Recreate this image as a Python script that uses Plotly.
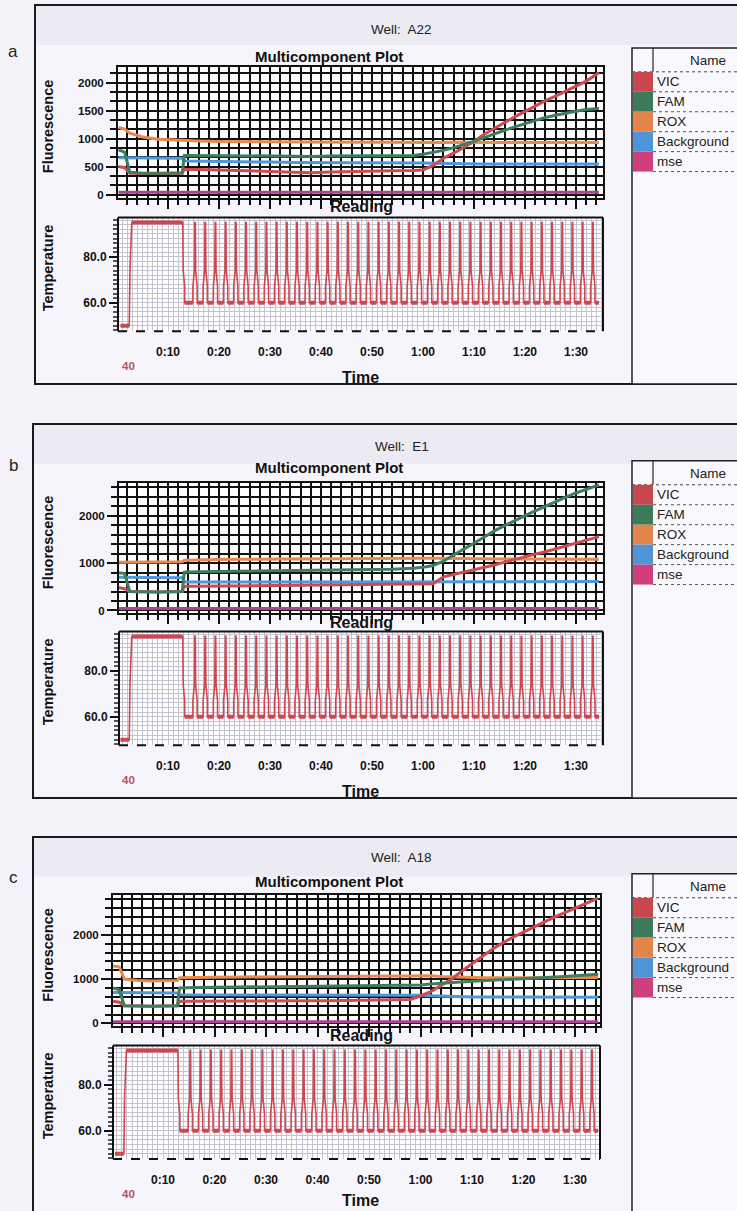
import plotly.graph_objects as go

W, H = 737, 1211
def X(px): return px / W
def Y(py): return 1 - py / H

# ---------------- data ----------------
SERIES = ["VIC", "FAM", "ROX", "Background", "mse"]
SWATCH = {"VIC": "#c9474c", "FAM": "#3c7a5c", "ROX": "#e3854a", "Background": "#4e95d8", "mse": "#cf3f7c"}
LINE = {"VIC": "#cc4a50", "FAM": "#3d7d5e", "ROX": "#e88a4c", "Background": "#4f97db", "mse": "#ad4390"}

TIME = [0.3, 1.5, 2.5, 5, 8, 12.8, 13.2, 16, 20, 25, 30, 35, 38, 42, 46, 50, 54, 58,
        60, 62, 64, 66, 68, 70, 72, 74, 76, 78, 80, 82, 84, 86, 88, 90, 92, 94.5]

# Well A22
VIC_A = [500, 480, 380, 375, 375, 380, 450, 450, 440, 430, 420, 400, 390, 405, 415, 420, 425, 430,
         440, 520, 650, 740, 840, 950, 1080, 1190, 1290, 1390, 1490, 1590, 1680, 1760, 1850, 1940, 2030, 2180]
FAM_A = [800, 760, 400, 380, 380, 390, 700, 700, 690, 690, 690, 685, 680, 690, 690, 690, 690, 700,
         720, 750, 790, 840, 890, 950, 1020, 1090, 1150, 1210, 1270, 1330, 1380, 1420, 1460, 1490, 1520, 1540]
ROX_A = [1200, 1170, 1100, 1030, 990, 970, 960, 960, 950, 945, 940, 940, 935, 935, 935, 935, 930, 930,
         930, 930, 930, 935, 930, 935, 930, 930, 930, 930, 930, 930, 930, 930, 930, 930, 930, 930]
BKG_A = [660, 660, 650, 650, 650, 650, 600, 595, 590, 585, 580, 575, 575, 575, 570, 570, 570, 570,
         565, 560, 555, 550, 550, 550, 548, 548, 547, 546, 545, 545, 545, 545, 545, 545, 545, 545]
MSE_A = [40] * 36

# Well E1
VIC_B = [480, 460, 400, 390, 390, 400, 510, 510, 515, 520, 530, 535, 540, 545, 545, 550, 555, 555,
         560, 565, 710, 760, 800, 850, 905, 960, 1020, 1080, 1130, 1190, 1240, 1300, 1360, 1420, 1480, 1560]
FAM_B = [800, 780, 400, 390, 390, 400, 810, 820, 825, 830, 835, 840, 845, 850, 855, 860, 870, 890,
         910, 950, 1040, 1170, 1290, 1420, 1550, 1680, 1790, 1900, 2000, 2100, 2200, 2300, 2390, 2480, 2560, 2650]
ROX_B = [1020, 1020, 1020, 1025, 1025, 1030, 1060, 1070, 1075, 1080, 1085, 1090, 1090, 1095, 1095, 1100, 1100, 1100,
         1100, 1100, 1095, 1095, 1090, 1090, 1090, 1088, 1086, 1085, 1084, 1083, 1082, 1081, 1080, 1080, 1080, 1080]
BKG_B = [700, 700, 695, 690, 690, 690, 600, 600, 600, 600, 600, 602, 603, 603, 604, 605, 605, 605,
         605, 610, 615, 615, 615, 612, 612, 612, 610, 610, 610, 610, 610, 610, 610, 610, 610, 610]
MSE_B = [40] * 36

# Well A18
VIC_C = [500, 480, 400, 390, 390, 400, 500, 500, 505, 510, 510, 515, 515, 515, 520, 520, 520, 540,
         620, 720, 860, 1000, 1180, 1350, 1520, 1680, 1820, 1950, 2060, 2180, 2290, 2400, 2500, 2600, 2700, 2830]
FAM_C = [800, 760, 400, 390, 390, 400, 800, 810, 815, 820, 825, 830, 835, 840, 845, 850, 855, 860,
         870, 890, 910, 930, 945, 955, 965, 975, 985, 995, 1010, 1020, 1035, 1050, 1060, 1075, 1090, 1110]
ROX_C = [1300, 1280, 1000, 970, 960, 970, 1030, 1040, 1045, 1050, 1055, 1060, 1060, 1065, 1070, 1070, 1075, 1080,
         1080, 1075, 1060, 1050, 1040, 1035, 1030, 1030, 1030, 1030, 1035, 1035, 1035, 1040, 1040, 1040, 1040, 1040]
BKG_C = [700, 700, 695, 690, 690, 690, 650, 650, 650, 648, 646, 645, 644, 643, 642, 641, 640, 640,
         635, 625, 615, 605, 600, 598, 596, 595, 594, 593, 592, 591, 590, 590, 590, 590, 590, 590]
MSE_C = [40] * 36

# thermal protocol (min, deg C)
HOLD_T = [0.7, 2.4, 2.55, 2.9, 12.85]
HOLD_C = [50, 50, 75, 95, 95]
SPIKE_DT = [-0.42, -0.42, -0.13, -0.05, 0.05, 0.13, 0.42, 0.42]
SPIKE_C = [60, 67, 74, 95, 95, 74, 67, 60]
PEAKS = [15.3, 17.3, 19.3, 21.3, 23.3, 25.3, 27.3, 29.3, 31.3, 33.3, 35.3, 37.3, 39.3, 41.3,
         43.3, 45.3, 47.3, 49.3, 51.3, 53.3, 55.3, 57.3, 59.3, 61.3, 63.3, 65.3, 67.3, 69.3,
         71.3, 73.3, 75.3, 77.3, 79.3, 81.3, 83.3, 85.3, 87.3, 89.3, 91.3, 93.3]
END_T, END_C = 94.5, 60

TIME_TICKS = [10, 20, 30, 40, 50, 60, 70, 80, 90]
TIME_LABELS = ["0:10", "0:20", "0:30", "0:40", "0:50", "1:00", "1:10", "1:20", "1:30"]
TEMP_TICKS = [60, 80]
TEMP_LABELS = ["60.0", "80.0"]

WELLS = [
    dict(label="a", well="A22", data=dict(VIC=VIC_A, FAM=FAM_A, ROX=ROX_A, Background=BKG_A, mse=MSE_A), ytick=500),
    dict(label="b", well="E1", data=dict(VIC=VIC_B, FAM=FAM_B, ROX=ROX_B, Background=BKG_B, mse=MSE_B), ytick=1000),
    dict(label="c", well="A18", data=dict(VIC=VIC_C, FAM=FAM_C, ROX=ROX_C, Background=BKG_C, mse=MSE_C), ytick=1000),
]

# ---------------- layout geometry (pixels) ----------------
GEOM = [
    dict(box=(35, 5, 385), well_y=30, title_y=57, lab_y=52, leg_top=48,
         fl=(118, 603, 67, 198), zero=195, ppu=0.056, t0=117, ppm=5.1, tt=218, time_dy=46),
    dict(box=(33, 425, 800), well_y=448, title_y=469, lab_y=467, leg_top=462,
         fl=(119, 603, 484, 615), zero=612, ppu=0.0475, t0=117, ppm=5.1, tt=633, time_dy=46),
    dict(box=(33, 839, 1216), well_y=860, title_y=884, lab_y=880, leg_top=876,
         fl=(113, 600, 897, 1029), zero=1026, ppu=0.0444, t0=111.5, ppm=5.15, tt=1048, time_dy=41),
]

FONT = "Liberation Sans, Arial, sans-serif"

# temperature profile
tp_t = list(HOLD_T)
tp_c = list(HOLD_C)
for dt, cc in zip(SPIKE_DT[4:], SPIKE_C[4:]):
    tp_t.append(HOLD_T[-1] + dt)
    tp_c.append(cc)
for p in PEAKS:
    for dt, cc in zip(SPIKE_DT, SPIKE_C):
        tp_t.append(p + dt)
        tp_c.append(cc)
tp_t.append(END_T)
tp_c.append(END_C)
hold_t, hold_c = [], []
for i in range(len(tp_t) - 1):
    if tp_c[i] == tp_c[i + 1] and tp_t[i + 1] - tp_t[i] > 0.2:
        hold_t += [tp_t[i], tp_t[i + 1], None]
        hold_c += [tp_c[i], tp_c[i + 1], None]

fig = go.Figure()
shapes = []
ann = []

def A(text, x, y, size, color="#111", bold=False, xanchor="center", angle=0, family=FONT):
    ann.append(dict(text=text, x=X(x), y=Y(y), xref="paper", yref="paper", showarrow=False,
                    xanchor=xanchor, yanchor="middle", textangle=angle,
                    font=dict(family=family, size=size, color=color, weight=700 if bold else 400)))

for k, (w, g) in enumerate(zip(WELLS, GEOM)):
    bl, bt, bb = g["box"]
    shapes.append(dict(type="rect", xref="paper", yref="paper", x0=X(bl), x1=1.02, y0=Y(bb), y1=Y(bt),
                       line=dict(color="#1a1a1a", width=2), fillcolor="#f6f5fb", layer="below"))
    shapes.append(dict(type="rect", xref="paper", yref="paper", x0=X(bl + 1), x1=1.02, y0=Y(bt + 40), y1=Y(bt + 1),
                       line=dict(width=0), fillcolor="#ecebf3", layer="below"))
    fl_l, fl_r, fl_t, fl_b = g["fl"]
    tt = g["tt"]
    tb = tt + 114
    for (yt, yb) in [(fl_t, fl_b), (tt, tb)]:
        shapes.append(dict(type="rect", xref="paper", yref="paper", x0=X(fl_l), x1=X(fl_r), y0=Y(yb), y1=Y(yt),
                           line=dict(width=0), fillcolor="#fdfdfe", layer="below"))

    ia = 2 * k + 1
    ib = 2 * k + 2
    xa, ya = f"x{ia}", f"y{ia}"
    xb, yb_ = f"x{ib}", f"y{ib}"
    xrange = [(fl_l - g["t0"]) / g["ppm"], (fl_r - g["t0"]) / g["ppm"]]
    yrange = [-(fl_b - g["zero"]) / g["ppu"], (g["zero"] - fl_t) / g["ppu"]]
    trange = [80 - (tb - (tt + 39.5)) / 2.3, 80 + 39.5 / 2.3]

    for s in ["mse", "Background", "ROX", "VIC", "FAM"]:
        fig.add_trace(go.Scatter(x=TIME, y=w["data"][s], mode="lines", name=s, showlegend=False,
                                 line=dict(color=LINE[s], width=3), xaxis=xa, yaxis=ya))
    fig.add_trace(go.Scatter(x=tp_t, y=tp_c, mode="lines", showlegend=False,
                             line=dict(color="#d0464e", width=1.6), xaxis=xb, yaxis=yb_))
    fig.add_trace(go.Scatter(x=hold_t, y=hold_c, mode="lines", showlegend=False,
                             line=dict(color="#d0464e", width=4), xaxis=xb, yaxis=yb_))

    dom_x = [X(fl_l), X(fl_r)]
    sfx = "" if ia == 1 else str(ia)
    sfx2 = str(ib)
    fig.update_layout(**{
        f"xaxis{sfx}": dict(domain=dom_x, range=xrange, anchor=ya, showticklabels=False,
                            tick0=0, dtick=10, ticks="outside", ticklen=9, tickwidth=1.5, tickcolor="#111",
                            showgrid=True, gridcolor="#111", gridwidth=1.6, zeroline=False,
                            showline=True, linecolor="#111", linewidth=2, mirror=True,
                            minor=dict(dtick=2, tick0=0, showgrid=True, gridcolor="#111", gridwidth=1.6,
                                       ticks="outside", ticklen=5, tickcolor="#111")),
        f"yaxis{sfx}": dict(domain=[Y(fl_b), Y(fl_t)], range=yrange, anchor=xa,
                            tick0=0, dtick=w["ytick"], ticks="outside", ticklen=10, tickwidth=1.5, tickcolor="#111",
                            tickfont=dict(family=FONT, size=11.5, color="#111", weight=700),
                            showgrid=True, gridcolor="#111", gridwidth=1.6, zeroline=False,
                            showline=True, linecolor="#111", linewidth=2, mirror=True,
                            minor=dict(dtick=w["ytick"] / (3 if w["ytick"] == 500 else 5), showgrid=True,
                                       gridcolor="#111", gridwidth=1.6, ticks="outside", ticklen=6, tickcolor="#111")),
        f"xaxis{sfx2}": dict(domain=dom_x, range=xrange, anchor=yb_,
                             tickvals=TIME_TICKS, ticktext=TIME_LABELS, ticks="", ticklabelstandoff=12,
                             tickfont=dict(family=FONT, size=12, color="#111", weight=700),
                             showgrid=False, zeroline=False, showline=False,
                             minor=dict(dtick=1, tick0=0, showgrid=True, gridcolor="#c3c3d2", gridwidth=0.7)),
        f"yaxis{sfx2}": dict(domain=[Y(tb), Y(tt)], range=trange, anchor=xb,
                             tickvals=TEMP_TICKS, ticktext=TEMP_LABELS, ticks="outside", ticklen=8, tickwidth=1.5,
                             tickcolor="#111", tickfont=dict(family=FONT, size=12, color="#111", weight=700),
                             showgrid=False, zeroline=False, showline=False,
                             minor=dict(dtick=2, tick0=0, showgrid=True, gridcolor="#c3c3d2", gridwidth=0.7,
                                        ticks="outside", ticklen=4, tickcolor="#555")),
    })
    for (x0, y0, x1, y1, dash) in [(0, 1, 1, 1, "solid"), (0, 0, 0, 1, "solid"), (1, 0, 1, 1, "solid"),
                                   (0, 0, 1, 0, "dash")]:
        shapes.append(dict(type="line", xref=f"{xb} domain", yref=f"{yb_} domain", x0=x0, y0=y0, x1=x1, y1=y1,
                           line=dict(color="#111", width=2, dash=dash)))

    A(f"Well:  {w['well']}", 402, g["well_y"], 13.5, color="#222")
    A(w["label"], 13, g["lab_y"], 17, color="#222")
    A("Multicomponent Plot", 329, g["title_y"], 15, bold=True)
    A("Fluorescence", 48, (fl_t + fl_b) / 2 - 6, 14.5, bold=True, angle=-90)
    A("Temperature", 48, (tt + tb) / 2 - 7, 14.5, bold=True, angle=-90)
    A("Reading", 361, fl_b + 9, 16, bold=True)
    A("Time", 360, tb + g["time_dy"], 16, bold=True)
    A("40", 120, tb + 35, 11.5, color="#b55563", bold=True, xanchor="left")

    lt = g["leg_top"]
    shapes.append(dict(type="rect", xref="paper", yref="paper", x0=X(632), x1=1.02, y0=Y(bb), y1=Y(lt),
                       line=dict(color="#222", width=1.5), fillcolor="#f9f8fc", layer="below"))
    shapes.append(dict(type="line", xref="paper", yref="paper", x0=X(653), x1=X(653), y0=Y(lt + 24), y1=Y(lt),
                       line=dict(color="#222", width=1.2)))
    shapes.append(dict(type="line", xref="paper", yref="paper", x0=X(632), x1=1.02, y0=Y(lt + 24), y1=Y(lt + 24),
                       line=dict(color="#444", width=1, dash="dot")))
    A("Name", 708, lt + 13, 13.5, color="#222")
    for i, s in enumerate(SERIES):
        r0 = lt + 24 + 20 * i
        shapes.append(dict(type="rect", xref="paper", yref="paper", x0=X(633), x1=X(653), y0=Y(r0 + 20), y1=Y(r0),
                           line=dict(width=0), fillcolor=SWATCH[s]))
        shapes.append(dict(type="line", xref="paper", yref="paper", x0=X(653), x1=1.02, y0=Y(r0 + 20), y1=Y(r0 + 20),
                           line=dict(color="#555", width=1, dash="dot")))
        A(s, 655, r0 + 10, 13.5, color="#222", xanchor="left")

fig.update_layout(width=W, height=H, autosize=False, margin=dict(l=0, r=0, t=0, b=0),
                  paper_bgcolor="#f4f3f9", plot_bgcolor="rgba(0,0,0,0)",
                  shapes=shapes, annotations=ann, showlegend=False)

fig.write_html("out.html", config={"displayModeBar": False},
               post_script="document.body.style.margin='0';")
